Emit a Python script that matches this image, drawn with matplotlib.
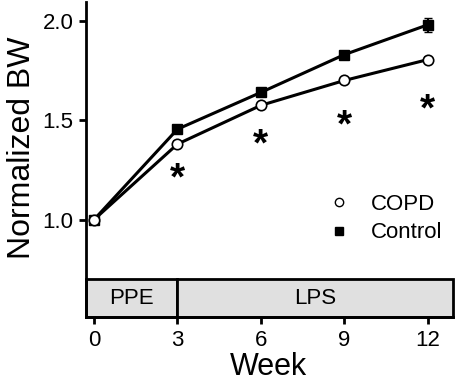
import numpy as np
import matplotlib
matplotlib.use('Agg')
import matplotlib.pyplot as plt
from matplotlib.patches import Rectangle
from matplotlib.lines import Line2D

plt.rcParams['font.family'] = ['Liberation Sans', 'DejaVu Sans']

weeks = [0, 3, 6, 9, 12]
copd = [1.0, 1.38, 1.575, 1.70, 1.805]
copd_err = [0.0, 0.015, 0.012, 0.012, 0.012]
control = [1.0, 1.455, 1.64, 1.83, 1.98]
control_err = [0.0, 0.02, 0.015, 0.018, 0.035]
star_weeks = [3, 6, 9, 12]
star_y = [1.20, 1.375, 1.47, 1.55]
phases = ['PPE', 'LPS']
phase_start = [-0.29, 3]
phase_end = [3, 12.9]

fig = plt.figure(figsize=(4.57, 3.83), dpi=100)
ax = fig.add_axes([0.188, 0.172, 0.803, 0.823])

ax.errorbar(weeks, control, yerr=control_err, color='black', lw=2.2, marker='s',
            ms=7, mfc='black', mec='black', capsize=3, elinewidth=1.5, zorder=3)
ax.errorbar(weeks, copd, yerr=copd_err, color='black', lw=2.2, marker='o',
            ms=7.5, mfc='white', mec='black', mew=1.2, capsize=3, elinewidth=1.5, zorder=4)

for w, s in zip(star_weeks, star_y):
    ax.text(w, s, '*', ha='center', va='center', fontsize=28, fontweight='bold')

# treatment band
for name, x0, x1 in zip(phases, phase_start, phase_end):
    ax.add_patch(Rectangle((x0, 0.51), x1 - x0, 0.19, facecolor='#e0e0e0',
                           edgecolor='black', lw=2, clip_on=False, zorder=2))
    ax.text((x0 + x1) / 2, 0.605, name, ha='center', va='center', fontsize=16, zorder=3)

ax.set_xlim(-0.29, 12.9)
ax.set_ylim(0.51, 2.095)
ax.set_xticks(weeks)
ax.set_yticks([1.0, 1.5, 2.0])
ax.set_yticklabels(['1.0', '1.5', '2.0'])
ax.tick_params(labelsize=16, width=2, length=5, direction='out', pad=4)
for s in ['top', 'right']:
    ax.spines[s].set_visible(False)
for s in ['left', 'bottom']:
    ax.spines[s].set_linewidth(2)

ax.set_xlabel('Week', fontsize=22)
ax.set_ylabel('Normalized BW', fontsize=23)
ax.xaxis.set_label_coords(0.496, -0.11)
ax.yaxis.set_label_coords(-0.134, 0.537)

handles = [Line2D([], [], marker='o', ls='none', ms=6, mfc='white', mec='black', mew=1),
           Line2D([], [], marker='s', ls='none', ms=6, mfc='black', mec='black')]
ax.legend(handles, ['COPD', 'Control'], loc='center left', bbox_to_anchor=(0.6, 0.313),
          frameon=False, fontsize=16, handletextpad=0.8, labelspacing=0.35, handlelength=1.2)

fig.savefig('out.png', dpi=100)
